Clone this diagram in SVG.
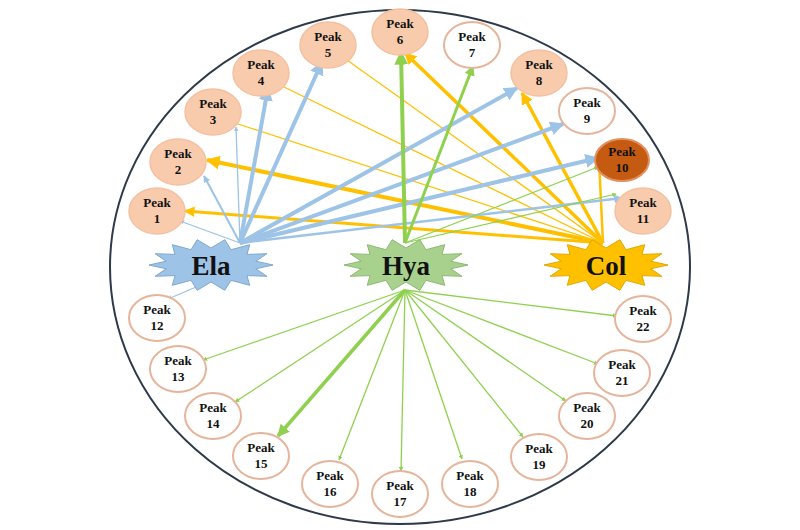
<svg xmlns="http://www.w3.org/2000/svg" width="800" height="530" viewBox="0 0 800 530">
<style>
.pk{fill:#f8cbad;stroke:#f4c0a0;stroke-width:1.5}
.pw{fill:#fff;stroke:#e6b49a;stroke-width:2}
.t{font-family:"Liberation Serif",serif;font-weight:bold;font-size:13px;text-anchor:middle;fill:#111}
.s{font-family:"Liberation Serif",serif;font-weight:bold;font-size:27px;text-anchor:middle;fill:#111}
.b{stroke:#9dc3e6;fill:none;marker-end:url(#mb)}
.y{stroke:#ffc000;fill:none;marker-end:url(#my)}
.g{stroke:#8fd14f;fill:none;marker-end:url(#mg)}
.yn{stroke:#ffc000;fill:none}
</style>
<defs>
<marker id="mb" viewBox="0 0 10 10" refX="9" refY="5" markerWidth="3.5" markerHeight="3.5" orient="auto"><path d="M0,0L10,5L0,10z" fill="#9dc3e6"/></marker>
<marker id="my" viewBox="0 0 10 10" refX="9" refY="5" markerWidth="3.5" markerHeight="3.5" orient="auto"><path d="M0,0L10,5L0,10z" fill="#ffc000"/></marker>
<marker id="mg" viewBox="0 0 10 10" refX="9" refY="5" markerWidth="3.5" markerHeight="3.5" orient="auto"><path d="M0,0L10,5L0,10z" fill="#8fd14f"/></marker>
<polygon id="star" points="62,0 44.8,3.8 55.9,11.3 36,10.6 38.7,20.3 20,15.3 13.8,25.3 0,17 -13.8,25.3 -20,15.3 -38.7,20.3 -36,10.6 -55.9,11.3 -44.8,3.8 -62,0 -44.8,-3.8 -55.9,-11.3 -36,-10.6 -38.7,-20.3 -20,-15.3 -13.8,-25.3 0,-17 13.8,-25.3 20,-15.3 38.7,-20.3 36,-10.6 55.9,-11.3 44.8,-3.8"/>
</defs>
<rect width="800" height="530" fill="#fff"/>
<ellipse cx="400" cy="267" rx="290" ry="257" fill="none" stroke="#2e3a4a" stroke-width="2"/>
<g id="connectors">
<line class="yn" x1="603" y1="243" x2="232" y2="122" stroke-width="1.3"/>
<line class="yn" x1="603" y1="243" x2="282" y2="86" stroke-width="1.3"/>
<line class="yn" x1="603" y1="243" x2="347" y2="60" stroke-width="1.3"/>
<line class="y" x1="603" y1="243" x2="185" y2="211" stroke-width="3"/>
<line class="y" x1="603" y1="243" x2="207" y2="160" stroke-width="4"/>
<line class="y" x1="603" y1="243" x2="405" y2="53" stroke-width="3.5"/>
<line class="y" x1="603" y1="243" x2="522" y2="93" stroke-width="3.5"/>
<line class="y" x1="603" y1="243" x2="599" y2="160" stroke-width="2.5"/>
<line class="b" x1="240" y1="243" x2="180" y2="221" stroke-width="1.3"/>
<line class="b" x1="240" y1="243" x2="204" y2="176" stroke-width="2"/>
<line class="b" x1="240" y1="243" x2="236" y2="127" stroke-width="1.3"/>
<line class="b" x1="240" y1="243" x2="268" y2="88" stroke-width="4"/>
<line class="b" x1="240" y1="243" x2="322" y2="62" stroke-width="4"/>
<line class="b" x1="240" y1="243" x2="517" y2="88" stroke-width="4"/>
<line class="b" x1="240" y1="243" x2="563" y2="124" stroke-width="4"/>
<line class="b" x1="240" y1="243" x2="598" y2="158" stroke-width="4"/>
<line class="b" x1="240" y1="243" x2="622" y2="198" stroke-width="2.5"/>
<line class="b" x1="222" y1="276" x2="168" y2="299" stroke-width="1.3"/>
<line class="g" x1="405" y1="243" x2="401" y2="52" stroke-width="4"/>
<line class="g" x1="405" y1="243" x2="473" y2="66" stroke-width="3"/>
<line class="g" x1="405" y1="243" x2="598" y2="167" stroke-width="1.2"/>
<line class="g" x1="405" y1="243" x2="616" y2="194" stroke-width="1.2"/>
<line class="g" x1="405" y1="290" x2="203" y2="360" stroke-width="1.3"/>
<line class="g" x1="405" y1="290" x2="235" y2="402" stroke-width="1.3"/>
<line class="g" x1="405" y1="290" x2="278" y2="436" stroke-width="3.5"/>
<line class="g" x1="405" y1="290" x2="339" y2="460" stroke-width="1.3"/>
<line class="g" x1="405" y1="290" x2="401" y2="471" stroke-width="1.3"/>
<line class="g" x1="405" y1="290" x2="462" y2="459" stroke-width="1.3"/>
<line class="g" x1="405" y1="290" x2="523" y2="437" stroke-width="1.3"/>
<line class="g" x1="405" y1="290" x2="566" y2="401" stroke-width="1.3"/>
<line class="g" x1="405" y1="290" x2="598" y2="364" stroke-width="1.3"/>
<line class="g" x1="405" y1="290" x2="617" y2="316" stroke-width="1.3"/>
</g>
<g id="ela"><use href="#star" transform="translate(211,265)" fill="#9dc3e6" stroke="#7fa7cf" stroke-width="1"/><text class="s" x="211" y="275">Ela</text></g>
<g id="hya"><use href="#star" transform="translate(406,265)" fill="#a9d18e" stroke="#8cb872" stroke-width="1"/><text class="s" x="406" y="275">Hya</text></g>
<g id="col"><use href="#star" transform="translate(606,265)" fill="#ffc000" stroke="#e0a800" stroke-width="1"/><text class="s" x="606" y="275">Col</text></g>
<g id="p1"><ellipse class="pk" cx="157" cy="211" rx="28" ry="23"/><text class="t" x="157" y="207">Peak</text><text class="t" x="157" y="223">1</text></g>
<g id="p2"><ellipse class="pk" cx="178" cy="162" rx="28" ry="23"/><text class="t" x="178" y="158">Peak</text><text class="t" x="178" y="174">2</text></g>
<g id="p3"><ellipse class="pk" cx="213" cy="112" rx="28" ry="23"/><text class="t" x="213" y="108">Peak</text><text class="t" x="213" y="124">3</text></g>
<g id="p4"><ellipse class="pk" cx="261" cy="73" rx="28" ry="23"/><text class="t" x="261" y="69">Peak</text><text class="t" x="261" y="85">4</text></g>
<g id="p5"><ellipse class="pk" cx="328" cy="45" rx="28" ry="23"/><text class="t" x="328" y="41">Peak</text><text class="t" x="328" y="57">5</text></g>
<g id="p6"><ellipse class="pk" cx="400" cy="32" rx="28" ry="23"/><text class="t" x="400" y="28">Peak</text><text class="t" x="400" y="44">6</text></g>
<g id="p7"><ellipse class="pw" cx="472" cy="45" rx="28" ry="23"/><text class="t" x="472" y="41">Peak</text><text class="t" x="472" y="57">7</text></g>
<g id="p8"><ellipse class="pk" cx="539" cy="73" rx="28" ry="23"/><text class="t" x="539" y="69">Peak</text><text class="t" x="539" y="85">8</text></g>
<g id="p9"><ellipse class="pw" cx="587" cy="111" rx="28" ry="23"/><text class="t" x="587" y="107">Peak</text><text class="t" x="587" y="123">9</text></g>
<g id="p10"><ellipse cx="622" cy="160" rx="27" ry="21" fill="#c55a11" stroke="#e09060" stroke-width="2"/><text class="t" x="622" y="156">Peak</text><text class="t" x="622" y="172">10</text></g>
<g id="p11"><ellipse class="pk" cx="643" cy="211" rx="28" ry="23"/><text class="t" x="643" y="207">Peak</text><text class="t" x="643" y="223">11</text></g>
<g id="p12"><ellipse class="pw" cx="157" cy="318" rx="28" ry="23"/><text class="t" x="157" y="314">Peak</text><text class="t" x="157" y="330">12</text></g>
<g id="p13"><ellipse class="pw" cx="178" cy="369" rx="28" ry="23"/><text class="t" x="178" y="365">Peak</text><text class="t" x="178" y="381">13</text></g>
<g id="p14"><ellipse class="pw" cx="213" cy="416" rx="28" ry="23"/><text class="t" x="213" y="412">Peak</text><text class="t" x="213" y="428">14</text></g>
<g id="p15"><ellipse class="pw" cx="261" cy="456" rx="28" ry="23"/><text class="t" x="261" y="452">Peak</text><text class="t" x="261" y="468">15</text></g>
<g id="p16"><ellipse class="pw" cx="330" cy="484" rx="28" ry="23"/><text class="t" x="330" y="480">Peak</text><text class="t" x="330" y="496">16</text></g>
<g id="p17"><ellipse class="pw" cx="400" cy="494" rx="28" ry="23"/><text class="t" x="400" y="490">Peak</text><text class="t" x="400" y="506">17</text></g>
<g id="p18"><ellipse class="pw" cx="470" cy="484" rx="28" ry="23"/><text class="t" x="470" y="480">Peak</text><text class="t" x="470" y="496">18</text></g>
<g id="p19"><ellipse class="pw" cx="539" cy="457" rx="28" ry="23"/><text class="t" x="539" y="453">Peak</text><text class="t" x="539" y="469">19</text></g>
<g id="p20"><ellipse class="pw" cx="587" cy="416" rx="28" ry="23"/><text class="t" x="587" y="412">Peak</text><text class="t" x="587" y="428">20</text></g>
<g id="p21"><ellipse class="pw" cx="622" cy="373" rx="28" ry="23"/><text class="t" x="622" y="369">Peak</text><text class="t" x="622" y="385">21</text></g>
<g id="p22"><ellipse class="pw" cx="643" cy="319" rx="28" ry="23"/><text class="t" x="643" y="315">Peak</text><text class="t" x="643" y="331">22</text></g>
</svg>
